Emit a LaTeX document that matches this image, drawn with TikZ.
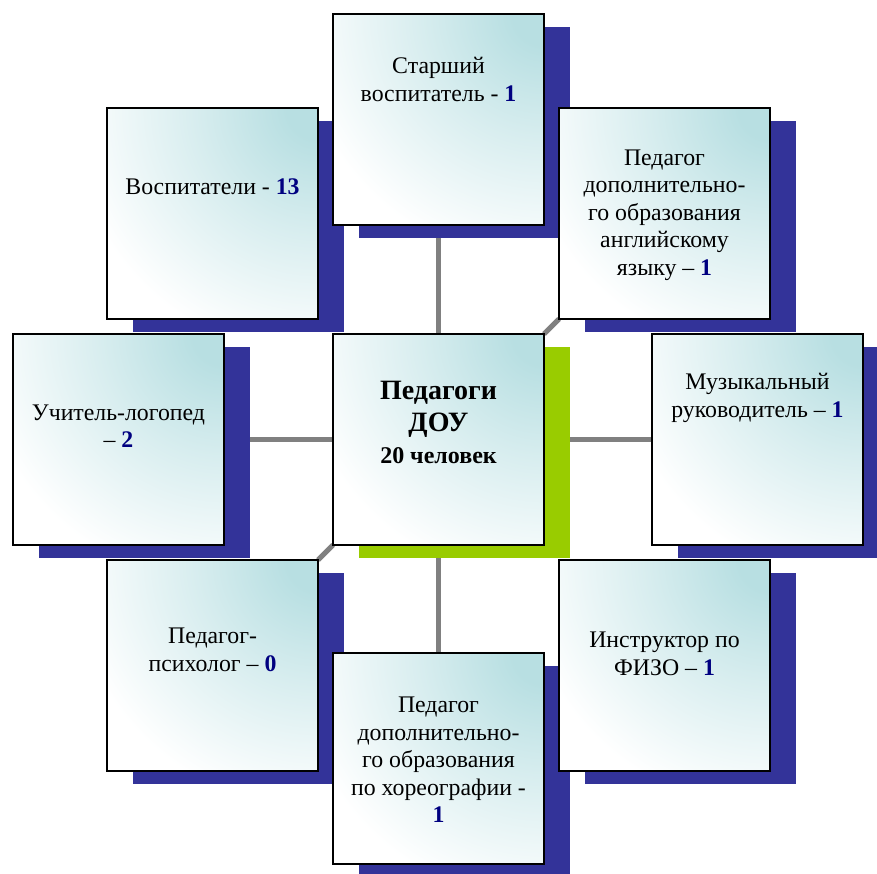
\documentclass[tikz,border=0pt]{standalone}
\usepackage{fontspec}
\setmainfont{Liberation Serif}
\usetikzlibrary{backgrounds}
\definecolor{shadowblue}{RGB}{51,51,153}
\definecolor{shadowgreen}{RGB}{153,204,0}
\definecolor{cellteal}{RGB}{184,223,226}
\definecolor{numblue}{RGB}{0,0,128}
\pgfdeclareradialshading{cornershade}{\pgfpointorigin}{%
	color(0bp)=(cellteal); color(3bp)=(cellteal); color(12bp)=(cellteal!55!white);
	color(24bp)=(white); color(50bp)=(white)}
\newcommand{\numb}[1]{\textcolor{numblue}{\textbf{#1}}}
\tikzset{
	cell/.style={draw=black, fill=white, line width=1.8pt, minimum size=211pt, inner sep=0pt, outer sep=0pt,
		path picture={\shade[shading=cornershade] (path picture bounding box.north east) circle (260pt);}},
	txt/.style={align=center, inner sep=0pt, font=\fontsize{23.8}{27.5}\selectfont},
	link/.style={draw=gray, line width=5pt},
}
\begin{document}
\begin{tikzpicture}[x=1pt,y=1pt]
	\useasboundingbox (0,0) rectangle (877,873);
	\clip (0,0) rectangle (877,873);
	% Draw boxes
	\node[cell] (ctr) at (438.5,433.5) {};
	\node[cell] (sen) at (438.5,753.5) {};
	\node[cell] (vos) at (212.5,659.5) {};
	\node[cell] (eng) at (664.5,659.5) {};
	\node[cell] (log) at (118.5,433.5) {};
	\node[cell] (mus) at (757.5,433.5) {};
	\node[cell] (psy) at (212.5,207.5) {};
	\node[cell] (fiz) at (664.5,207.5) {};
	\node[cell] (cho) at (438.5,114.5) {};
	% Connectors and shadows
	\begin{scope}[on background layer]
		\draw[link] (ctr) -- (sen);
		\draw[link] (ctr) -- (log);
		\draw[link] (ctr) -- (mus);
		\draw[link] (ctr) -- (cho);
		\draw[link] (ctr.north east) -- (eng.south west);
		\draw[link] (ctr.south west) -- (psy.north east);
		\foreach \n in {sen,vos,eng,log,mus,psy,fiz,cho}
		\fill[shadowblue] ([shift={(26,-13)}]\n.south west) rectangle ([shift={(26,-13)}]\n.north east);
		\fill[shadowgreen] ([shift={(26,-13)}]ctr.south west) rectangle ([shift={(26,-13)}]ctr.north east);
	\end{scope}
	% Texts
	\node[txt, font=\fontsize{28}{32}\selectfont\bfseries] (ctrtxt) at ([yshift=17.5]ctr.center) {Педагоги\\ДОУ\\{\fontsize{24}{29}\selectfont 20 человек}};
	\node[txt] (sentxt) at ([yshift=40]sen.center) {Старший\\воспитатель - \numb{1}};
	\node[txt] (vostxt) at ([yshift=27]vos.center) {Воспитатели - \numb{13}};
	\node[txt] (engtxt) at ([yshift=-1.5]eng.center) {Педагог\\дополнительно-\\го образования\\английскому\\языку – \numb{1}};
	\node[txt] (logtxt) at ([yshift=13.5]log.center) {Учитель-логопед\\– \numb{2}};
	\node[txt] (mustxt) at ([yshift=41.5]mus.center) {Музыкальный\\руководитель – \numb{1}};
	\node[txt] (psytxt) at ([yshift=15.5]psy.center) {Педагог-\\психолог – \numb{0}};
	\node[txt] (fiztxt) at ([yshift=11.5]fiz.center) {Инструктор по\\ФИЗО – \numb{1}};
	\node[txt] (chotxt) at ([yshift=-1.5]cho.center) {Педагог\\дополнительно-\\го образования\\по хореографии -\\\numb{1}};
\end{tikzpicture}
\end{document}
